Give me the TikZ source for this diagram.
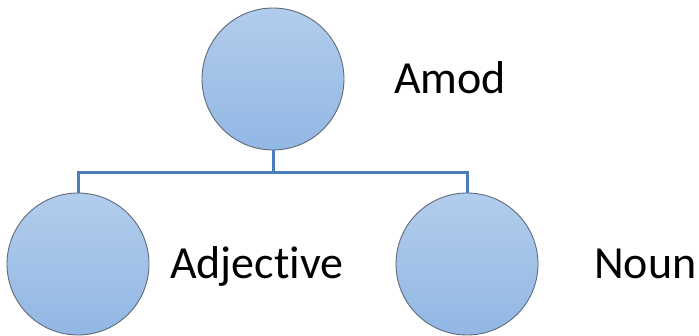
\documentclass[tikz,border=0pt]{standalone}
\usepackage{fontspec}
\setmainfont{Carlito}[Ligatures=NoCommon]
\usepackage{tikz}

\definecolor{ballTop}{RGB}{178,205,236}
\definecolor{ballBot}{RGB}{146,183,228}
\definecolor{ballRim}{RGB}{95,105,120}
\definecolor{treeLine}{RGB}{74,126,187}

\begin{document}
\begin{tikzpicture}[x=1pt,y=-1pt,
		ball/.style={circle, minimum size=142pt, inner sep=0pt, draw=ballRim, line width=0.9pt, top color=ballTop, bottom color=ballBot},
		word/.style={anchor=base west, inner sep=0pt, font=\fontsize{46}{55}\selectfont},
		link/.style={draw=treeLine, line width=3pt}]
				\useasboundingbox (0,0) rectangle (699,335);
				\node[ball] (amod) at (273,79) {};
				\node[ball] (adj) at (78,264) {};
				\node[ball] (noun) at (467,264) {};
				\coordinate (split) at (273,172);
				\draw[link] (amod.south) -- (split);
				\draw[link] (split) -| (adj.north);
				\draw[link] (split) -| (noun.north);
				\node[word] (amodtxt) at (394,93) {Amod};
				\node[word] (adjtxt) at (170,278) {Adjective};
				\node[word] (nountxt) at (594,278) {Noun};
\end{tikzpicture}
\end{document}
